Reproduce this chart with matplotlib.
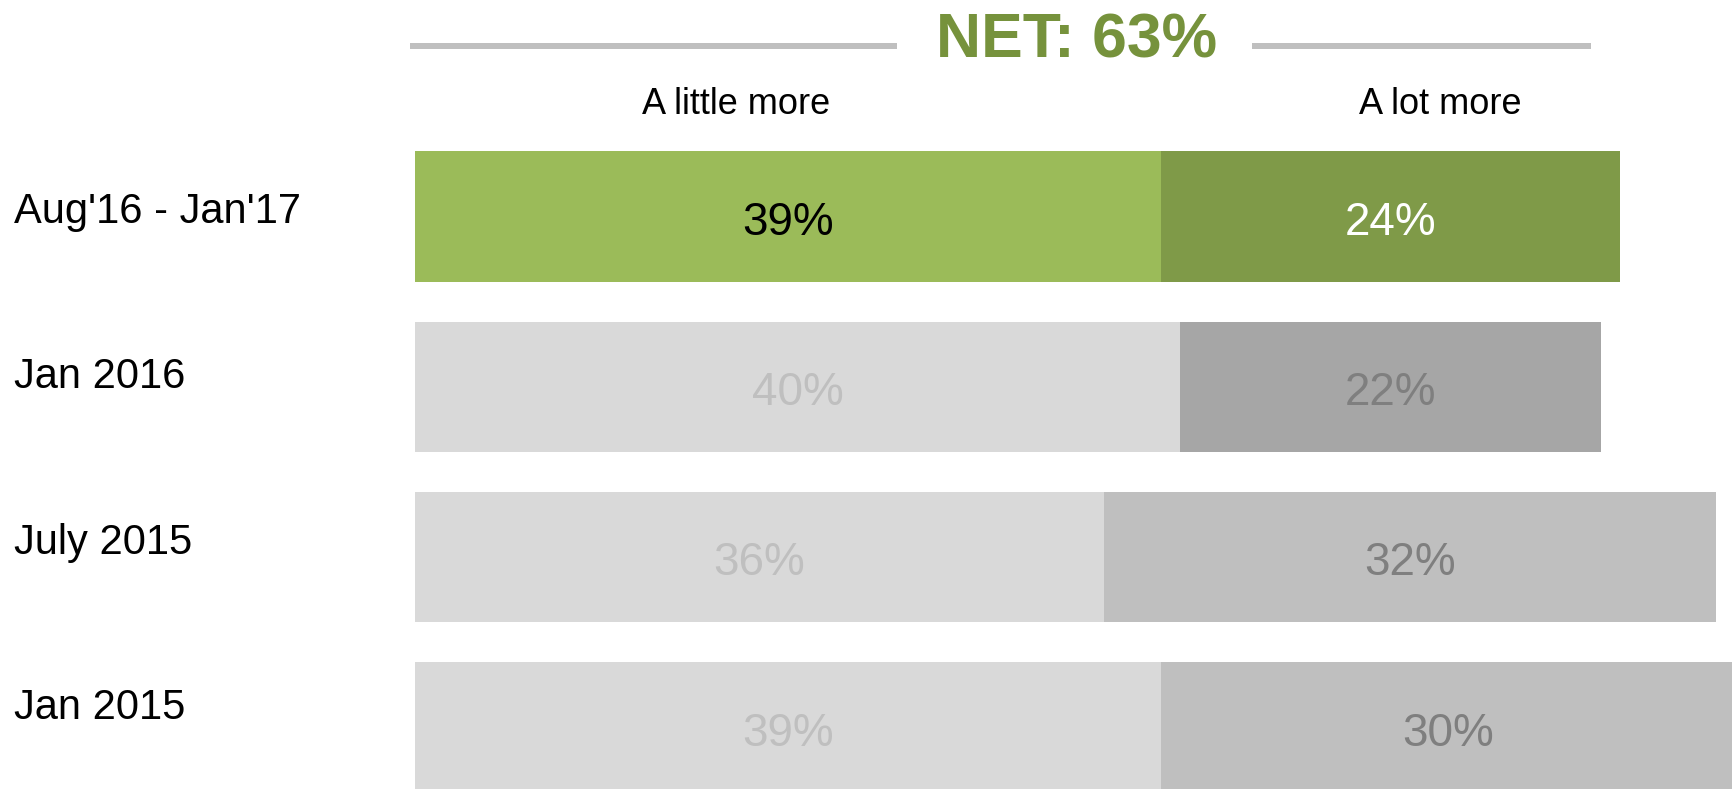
import matplotlib
matplotlib.use('Agg')
import matplotlib.pyplot as plt

plt.rcParams['font.family'] = ['Liberation Sans', 'DejaVu Sans']

# ─── Data ───
periods = ["Aug'16 - Jan'17", "Jan 2016", "July 2015", "Jan 2015"]
a_little_more = [39, 40, 36, 39]
a_lot_more = [24, 22, 32, 30]
net_label = "NET: 63%"
headers = ["A little more", "A lot more"]

# ─── Styles ───
little_colors = ['#9BBB59', '#D9D9D9', '#D9D9D9', '#D9D9D9']
lot_colors = ['#7F9A48', '#A6A6A6', '#BFBFBF', '#BFBFBF']
little_text = ['#000000', '#BFBFBF', '#BFBFBF', '#BFBFBF']
lot_text = ['#FFFFFF', '#7F7F7F', '#7F7F7F', '#7F7F7F']
NET_GREEN = '#76923C'
RULE_GREY = '#BFBFBF'

fig = plt.figure(figsize=(17.33, 7.89), dpi=100)
ax = fig.add_axes([0, 0, 1, 1])
ax.set_xlim(-21.73, 68.91)
ax.set_ylim(3.363, -1.273)
ax.axis('off')

rows = list(range(len(periods)))
bar_h = 0.766

ax.barh(rows, a_little_more, height=bar_h, color=little_colors, linewidth=0)
ax.barh(rows, a_lot_more, left=a_little_more, height=bar_h, color=lot_colors, linewidth=0)

for i, (lm, lo) in enumerate(zip(a_little_more, a_lot_more)):
    ax.text(lm / 2, i + 0.108, f'{lm}%', ha='center', va='baseline',
            fontsize=33, color=little_text[i])
    ax.text(lm + lo / 2, i + 0.108, f'{lo}%', ha='center', va='baseline',
            fontsize=33, color=lot_text[i])
    ax.text(-20.98, 0.036 + 0.972 * i, periods[i], ha='left', va='baseline',
            fontsize=30, color='black')

# header: NET total with rules either side
ax.plot([-0.29, 25.2], [-1.0, -1.0], color=RULE_GREY, lw=4.3, solid_capstyle='butt')
ax.plot([43.75, 61.5], [-1.0, -1.0], color=RULE_GREY, lw=4.3, solid_capstyle='butt')
ax.text(34.56, -0.934, net_label, ha='center', va='baseline',
        fontsize=45, fontweight='bold', color=NET_GREEN)
ax.text(16.76, -0.603, headers[0], ha='center', va='baseline', fontsize=26)
ax.text(53.6, -0.603, headers[1], ha='center', va='baseline', fontsize=26)

fig.savefig('out.png', dpi=100)
